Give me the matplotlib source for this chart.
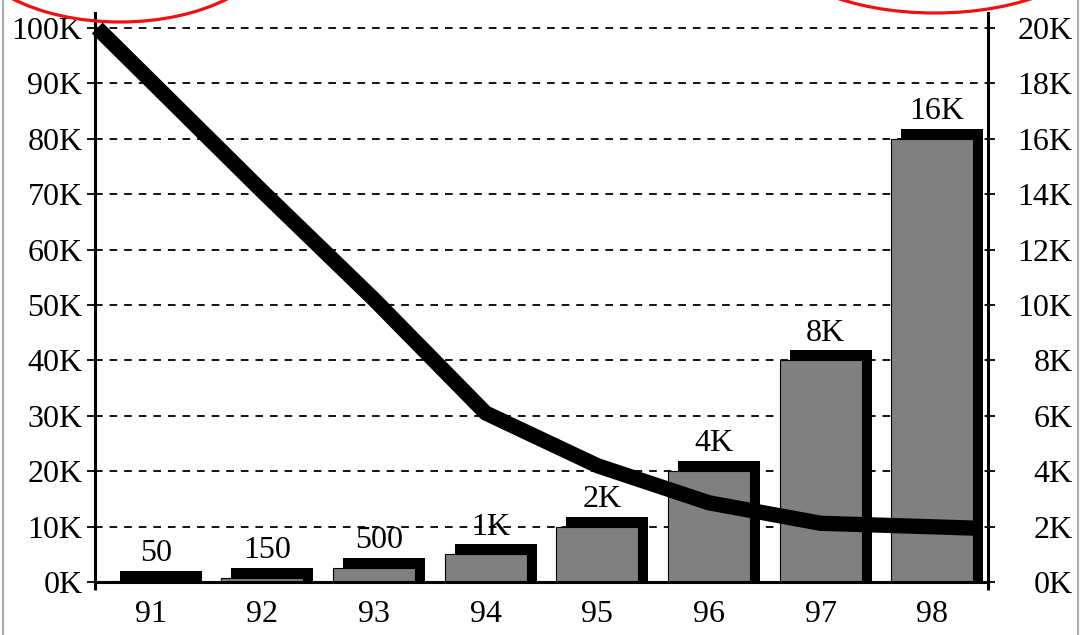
import matplotlib
matplotlib.use("Agg")
import matplotlib.pyplot as plt
from matplotlib.patches import Ellipse
from matplotlib.lines import Line2D
import numpy as np

# ---- data ----
years = ["91", "92", "93", "94", "95", "96", "97", "98"]
units = [50, 150, 500, 1000, 2000, 4000, 8000, 16000]          # right axis
unit_labels = ["50", "150", "500", "1K", "2K", "4K", "8K", "16K"]
trend_pos = [-0.48, 1, 2, 3, 4, 5, 6, 7.42]                     # category positions
trend_vals = [100000, 70500, 51000, 30500, 21000, 14300, 10600, 9700]  # left axis
left_ticks = list(range(0, 100001, 10000))
right_ticks = list(range(0, 20001, 2000))

plt.rcParams["font.family"] = ["Liberation Serif", "DejaVu Serif"]
plt.rcParams["lines.scale_dashes"] = False

W, H, DPI = 1083, 635, 100
FS = 23
fig = plt.figure(figsize=(W / DPI, H / DPI), dpi=DPI)
fig.patch.set_facecolor("white")

ax_h_px = 569
ax = fig.add_axes([95 / W, 53 / H, 893 / W, ax_h_px / H])
ax2 = ax.twinx()
ax.set_zorder(3)
ax.patch.set_visible(False)
ax2.set_zorder(1)

top_left = 100000 * ax_h_px / 554.0
top_right = top_left / 5.0
ax.set_ylim(0, top_left)
ax2.set_ylim(0, top_right)
ax.set_xlim(-0.5, 7.5)
ax2.set_xlim(-0.5, 7.5)

x = np.arange(len(years))

# ---- bars with drop shadow (right axis) ----
px_per_x = 893 / 8.0
px_per_y = ax_h_px / top_right
dx = 10 / px_per_x
dy = 10 / px_per_y
bar_w = 0.735
ax2.bar(x + dx, np.array(units) + dy, width=bar_w, color="black",
        edgecolor="none", zorder=2)
ax2.bar(x, units, width=bar_w, color="#808080", edgecolor="black",
        linewidth=0.8, zorder=3)
for xi, v, lab in zip(x, units, unit_labels):
    ax2.annotate(lab, (xi + dx / 2, v + dy), xytext=(0, 7),
                 textcoords="offset points", ha="center", va="baseline",
                 fontsize=FS, zorder=4)

# ---- dashed grid ----
ax2.set_axisbelow(True)
ax2.set_yticks(right_ticks)
ax2.yaxis.grid(True, color="black", linewidth=1.3, linestyle=(0, (5.5, 5.0)))
ax.grid(False)

# ---- trend line (left axis) ----
ax.plot(trend_pos, trend_vals, color="black", linewidth=11,
        solid_capstyle="butt", solid_joinstyle="round", zorder=5, clip_on=False)

# ---- axes styling ----
ax.set_yticks(left_ticks)
ax.set_yticklabels([f"{v // 1000}K" for v in left_ticks])
ax2.set_yticklabels([f"{v // 1000}K" for v in right_ticks])
ax.set_xticks(x)
ax.set_xticklabels(years)
ax.set_xticks([-0.5, 7.5], minor=True)

for s in ["top", "right"]:
    ax.spines[s].set_visible(False)
for s in ["top", "left", "bottom"]:
    ax2.spines[s].set_visible(False)
ax.spines["left"].set_linewidth(2.2)
ax.spines["bottom"].set_linewidth(2.2)
ax2.spines["right"].set_linewidth(2.2)

ax.tick_params(axis="y", direction="out", length=6, width=1.3, pad=3,
               labelsize=FS)
ax.tick_params(axis="x", which="major", length=0, pad=13, labelsize=FS)
ax.tick_params(axis="x", which="minor", direction="out", length=6, width=2.2)
ax2.tick_params(axis="y", direction="out", length=5, width=1.3, pad=56,
                labelsize=FS)
for t in ax2.get_yticklabels():
    t.set_horizontalalignment("right")
ax2.tick_params(axis="x", length=0, labelbottom=False)

# ---- red highlight ellipses ----
def px_ellipse(cx, cy_top, a, b):
    return Ellipse((cx / W, (H - cy_top) / H), 2 * a / W, 2 * b / H,
                   transform=fig.transFigure, fill=False, edgecolor="#ee1111",
                   linewidth=2.3, zorder=10)

fig.add_artist(px_ellipse(120, -60, 154, 82))
fig.add_artist(px_ellipse(935, -57, 159, 70))

# ---- outer frame lines ----
fig.add_artist(Line2D([3 / W, 3 / W], [0, 1], transform=fig.transFigure,
                      color="#9a9a9a", linewidth=1.2))
fig.add_artist(Line2D([1078 / W, 1078 / W], [0, 1], transform=fig.transFigure,
                      color="#9a9a9a", linewidth=1.2))

fig.savefig("out.png", dpi=DPI)
